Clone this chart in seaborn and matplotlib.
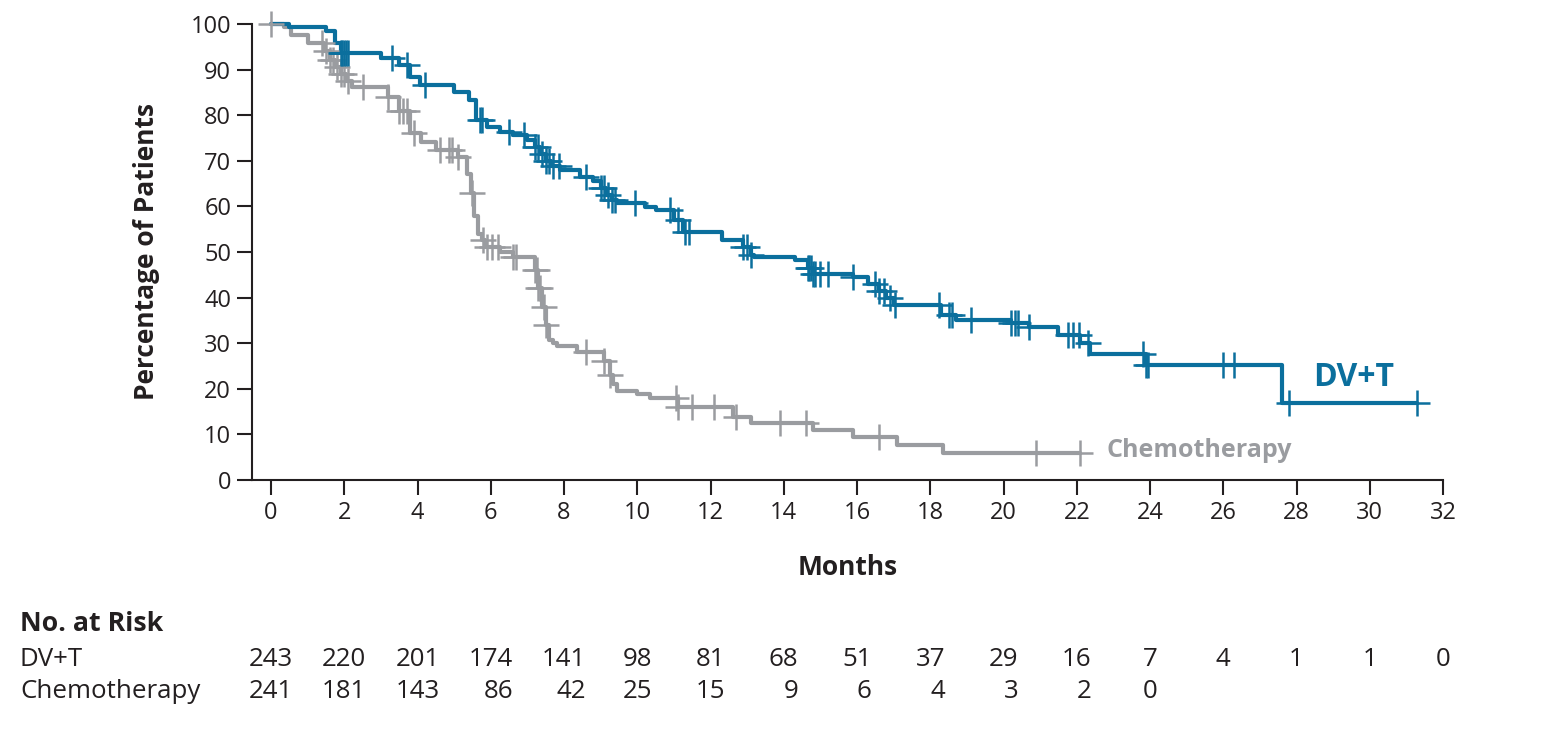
import numpy as np
import pandas as pd
import seaborn as sns
import matplotlib.pyplot as plt

# --- data (months, % of patients) ---
dvt_times = [0, 0.5, 1.5, 1.75, 1.9, 3.0, 3.5, 3.8, 4.07, 5.0, 5.4, 5.6, 5.9, 6.25, 6.6,
             7.0, 7.2, 7.35, 7.5, 7.65, 7.9, 8.44, 8.8, 9.0, 9.15, 9.3, 9.45, 10.2, 10.5,
             11.0, 11.25, 12.3, 12.9, 13.1, 13.2, 14.3, 14.65, 14.8, 15.9, 16.3, 16.6, 16.8,
             17.0, 18.3, 18.7, 20.2, 20.7, 21.5, 22.1, 22.35, 23.9, 27.6]
dvt_surv = [100, 99.4, 98.5, 95.8, 93.6, 92.5, 91.0, 88.4, 86.6, 85.0, 83.3, 79.0, 77.4, 76.3, 75.6,
            74.5, 73.0, 71.5, 70.0, 68.8, 68.0, 66.5, 65.5, 64.0, 62.5, 61.5, 60.7, 59.9, 59.2,
            57.0, 54.4, 52.6, 51.0, 49.3, 48.9, 48.2, 46.5, 45.2, 44.5, 43.0, 41.5, 40.0,
            38.4, 36.2, 35.1, 34.4, 33.6, 31.8, 30.0, 27.7, 25.2, 16.8]
dvt_end = 31.3
dvt_censor = [1.9, 1.95, 2.0, 2.05, 2.1, 3.3, 3.7, 4.2, 5.7, 5.75, 6.5, 6.9, 7.2, 7.3, 7.4, 7.5,
              7.6, 7.7, 7.85, 8.6, 9.0, 9.1, 9.2, 9.3, 9.4, 9.95, 10.9, 11.1, 11.3, 11.4, 12.9,
              13.0, 13.1, 14.65, 14.7, 14.75, 14.8, 14.85, 15.0, 15.2, 15.9, 16.5, 16.6, 16.75,
              16.9, 17.05, 18.25, 18.5, 18.6, 19.1, 20.2, 20.3, 20.4, 20.7, 21.75, 21.9, 22.05,
              22.3, 23.8, 23.9, 23.95, 26.0, 26.3, 27.8, 31.3]

chemo_times = [0, 0.35, 0.55, 1.0, 1.45, 1.6, 1.75, 1.9, 2.05, 2.2, 3.2, 3.5, 3.8, 4.1, 4.5,
               5.1, 5.35, 5.45, 5.55, 5.65, 5.75, 5.85, 6.25, 6.6, 7.2, 7.3, 7.4, 7.5, 7.6,
               7.7, 7.8, 8.35, 9.1, 9.25, 9.35, 9.45, 10.0, 10.35, 11.1, 12.6, 13.1, 14.8,
               15.9, 17.1, 18.35]
chemo_surv = [100, 99.4, 97.6, 95.8, 94.0, 92.0, 90.5, 89.0, 87.5, 86.2, 84.0, 81.0, 76.0, 74.1, 72.4,
              70.8, 67.0, 63.0, 58.0, 54.0, 52.6, 51.1, 50.0, 48.9, 46.0, 42.0, 38.0, 34.0, 30.7,
              30.0, 29.4, 28.1, 26.0, 23.0, 21.0, 19.5, 18.9, 18.0, 16.0, 13.8, 12.5, 11.0,
              9.4, 7.7, 5.9]
chemo_end = 22.1
chemo_censor = [0, 1.4, 1.5, 1.6, 1.7, 1.8, 1.9, 2.0, 2.1, 2.5, 3.2, 3.5, 3.6, 3.7, 3.9, 4.6,
                4.85, 4.95, 5.1, 5.5, 5.8, 5.9, 6.04, 6.2, 6.6, 6.7, 7.2, 7.25, 7.3, 7.35, 7.45,
                7.5, 8.6, 9.1, 9.25, 11.05, 11.1, 11.5, 12.1, 12.7, 13.9, 14.6, 16.6, 20.9, 22.1]

risk_months = [0, 2, 4, 6, 8, 10, 12, 14, 16, 18, 20, 22, 24, 26, 28, 30, 32]
risk_dvt = [243, 220, 201, 174, 141, 98, 81, 68, 51, 37, 29, 16, 7, 4, 1, 1, 0]
risk_chemo = [241, 181, 143, 86, 42, 25, 15, 9, 6, 4, 3, 2, 0]

BLUE = "#0b6f9d"
GRAY = "#9a9ca0"
INK = "#231f20"

sns.set_style("ticks")
plt.rcParams['font.family'] = ['Open Sans', 'DejaVu Sans']


def km_frame(times, surv, end):
    return pd.DataFrame({'t': list(times) + [end], 's': list(surv) + [surv[-1]]})


def censor_frame(times, surv, cens):
    idx = np.searchsorted(times, cens, side='right') - 1
    return pd.DataFrame({'t': cens, 's': np.asarray(surv)[idx]})


fig = plt.figure(figsize=(15.44, 7.34), dpi=100)
ax = fig.add_axes([252 / 1544, 1 - 480 / 734, (1443 - 252) / 1544, 456 / 734])

for times, surv, end, cens, col in [(chemo_times, chemo_surv, chemo_end, chemo_censor, GRAY),
                                    (dvt_times, dvt_surv, dvt_end, dvt_censor, BLUE)]:
    sns.lineplot(data=km_frame(times, surv, end), x='t', y='s', drawstyle='steps-post',
                 estimator=None, sort=False, color=col, lw=3.0, ax=ax, clip_on=False)
    sns.scatterplot(data=censor_frame(times, surv, cens), x='t', y='s', marker='+',
                    s=330, color=col, linewidth=1.8, ax=ax, clip_on=False, zorder=3)

ax.text(29.56, 22.4, "DV+T", color=BLUE, fontsize=23, fontweight='bold', ha='center', va='center')
ax.text(22.8, 6.4, "Chemotherapy", color=GRAY, fontsize=18, fontweight='bold', ha='left', va='center')

ax.set_xlim(-0.52, 32)
ax.set_ylim(0, 100)
ax.set_xticks(risk_months)
ax.set_yticks(range(0, 101, 10))
sns.despine(ax=ax)
for sp in ['left', 'bottom']:
    ax.spines[sp].set_linewidth(1.5)
    ax.spines[sp].set_color(INK)
ax.tick_params(direction='out', length=11, width=1.5, color=INK, labelcolor=INK,
               labelsize=17, pad=4)
ax.set_xlabel("Months", fontsize=19, fontweight='bold', color=INK, labelpad=21)
ax.set_ylabel("Percentage of Patients", fontsize=19, fontweight='bold', color=INK, labelpad=22)

# number at risk table
tr = ax.get_xaxis_transform()
fig.text(20 / 1544, 1 - 624 / 734, "No. at Risk", fontsize=19.3, fontweight='bold',
         color=INK, ha='left', va='center')
fig.text(20 / 1544, 1 - 659 / 734, "DV+T", fontsize=18.6, color=INK, ha='left', va='center')
fig.text(20 / 1544, 1 - 692 / 734, "Chemotherapy", fontsize=18.6, color=INK, ha='left', va='center')
dvt_labels = []
for m, n in zip(risk_months, risk_dvt):
    dvt_labels.append(ax.text(m, -(659 - 480) / 456, str(n), transform=tr, fontsize=18.6,
                              color=INK, ha='center', va='center'))
for lab, n in zip(dvt_labels, risk_chemo):
    ax.annotate(str(n), xy=(1, 0.5), xycoords=lab, xytext=(0, -33 * 72 / 100),
                textcoords='offset points', fontsize=18.6, color=INK, ha='right', va='center')

fig.savefig('out.png', dpi=100)
